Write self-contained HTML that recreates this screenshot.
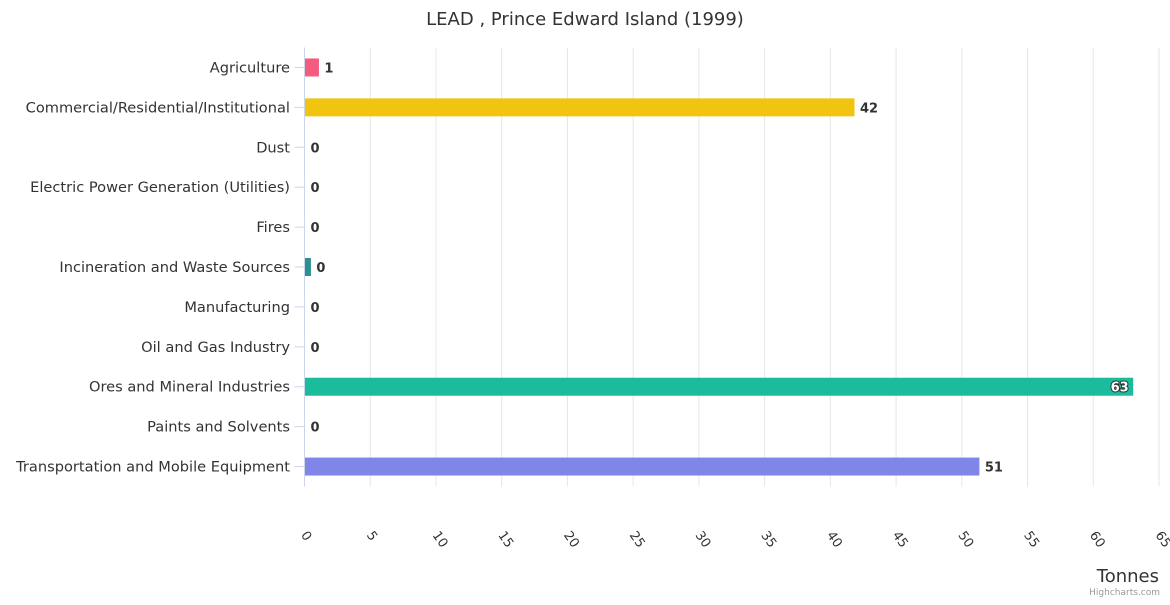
<!DOCTYPE html>
<html><head><meta charset="utf-8"><style>
body{margin:0;background:#fff;font-family:"Liberation Sans","DejaVu Sans",sans-serif}
svg text{font-family:"DejaVu Sans","Liberation Sans",sans-serif}
</style></head><body>
<svg id="c" width="1170" height="600">
<text x="585" y="25" text-anchor="middle" font-size="18" fill="#333">LEAD , Prince Edward Island (1999)</text>
<g id="grid"></g><g id="bars"></g><g id="labels"></g>
<text x="1159" y="582" text-anchor="end" font-size="18" fill="#333">Tonnes</text>
<text x="1160" y="595" text-anchor="end" font-size="9" fill="#999">Highcharts.com</text>
</svg>
<script>
const categories=["Agriculture","Commercial/Residential/Institutional","Dust","Electric Power Generation (Utilities)","Fires","Incineration and Waste Sources","Manufacturing","Oil and Gas Industry","Ores and Mineral Industries","Paints and Solvents","Transportation and Mobile Equipment"];
const values=[1.06,41.8,0,0,0,0.45,0,0,63,0,51.3];
const printed=["1","42","0","0","0","0","0","0","63","0","51"];
const colors=["#f45b7f","#f1c40f","#2b908f","#2b908f","#2b908f","#2b908f","#2b908f","#2b908f","#1abc9c","#2b908f","#7f86e8"];
const ticks=[0,5,10,15,20,25,30,35,40,45,50,55,60,65];
const NS="http://www.w3.org/2000/svg";
const x0=304.5,x1=1159,plotTop=47.5,plotBot=486.5,xmax=65;
const X=v=>x0+v/xmax*(x1-x0);
const step=(plotBot-plotTop)/categories.length;
const Y=i=>plotTop+step*(i+0.5);
function mk(t,a,p){const e=document.createElementNS(NS,t);for(const k in a)e.setAttribute(k,a[k]);p.appendChild(e);return e;}
const g=document.getElementById('grid'),b=document.getElementById('bars'),l=document.getElementById('labels');
ticks.forEach(t=>{
 if(t>0){const gl=mk('line',{x1:X(t),x2:X(t),y1:plotTop,y2:plotBot,stroke:'#e6e6e6'},g);
 
 }
 const tx=mk('text',{x:X(t)-4,y:535,'font-size':13,fill:'#333',transform:`rotate(55 ${X(t)-4} 535)`},l);
 tx.textContent=t;
 
 
});
const ax=mk('line',{x1:x0,x2:x0,y1:plotTop,y2:plotBot,stroke:'#ccd6eb'},g);


categories.forEach((c,i)=>{
 const y=Y(i);
 const tk=mk('line',{x1:x0-10,x2:x0,y1:y,y2:y,stroke:'#ccd6eb'},g);
 
 
 const lt=mk('text',{x:290,y:y+5,'text-anchor':'end','font-size':14.6,fill:'#333'},l);
 lt.textContent=c;
 
 
 const w=X(values[i])-x0;
 if(w>0){const r=mk('rect',{x:x0+0.5,y:y-9,width:w,height:18,fill:colors[i]},b);
 
 }
 const inside=values[i]>60;
 const vx=inside?X(values[i])-4:Math.max(X(values[i]),x0)+6;
 const vt=mk('text',{x:vx,y:y+5,'font-size':13,'font-weight':'bold',fill:inside?'#fff':'#333','text-anchor':inside?'end':'start'},l);
 if(inside){vt.setAttribute('stroke','#333');vt.setAttribute('stroke-width','2');vt.setAttribute('paint-order','stroke');}
 vt.textContent=printed[i];
 
 
});
</script>
</body></html>
